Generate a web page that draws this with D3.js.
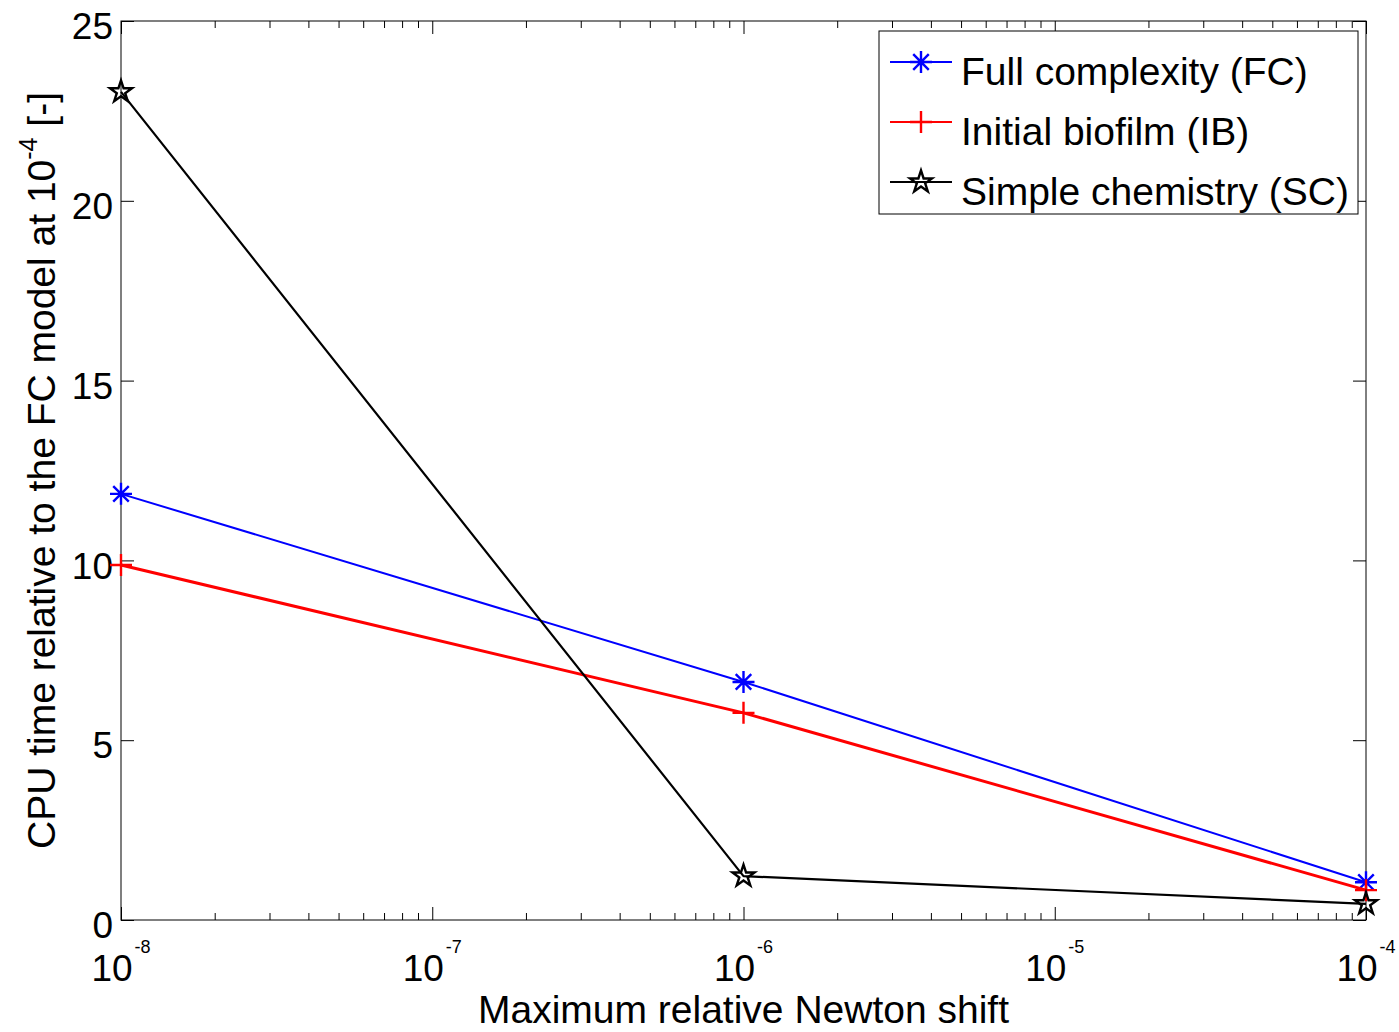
<!DOCTYPE html>
<html>
<head>
<meta charset="utf-8">
<script src="https://cdn.jsdelivr.net/npm/d3@7"></script>
<style>
  body { margin: 0; background: #fff; }
  text { font-family: "Liberation Sans", Arial, sans-serif; fill: #000; }
</style>
</head>
<body>
<svg id="chart" width="1399" height="1032"></svg>
<script>
// data
var shiftValues = [1e-8, 1e-6, 1e-4];
var fcValues = [11.85, 6.62, 1.05];
var ibValues = [9.87, 5.76, 0.83];
var scValues = [23.03, 1.22, 0.45];
var decadeExponents = [-8, -7, -6, -5, -4];
var yTickValues = [0, 5, 10, 15, 20, 25];
var seriesNames = ["Full complexity (FC)", "Initial biofilm (IB)", "Simple chemistry (SC)"];
var seriesColors = ["#0000ff", "#ff0000", "#000000"];

var margin = {left: 121, top: 21, right: 33, bottom: 112};
var width = 1399 - margin.left - margin.right;
var height = 1032 - margin.top - margin.bottom;

var svg = d3.select("#chart");
var g = svg.append("g").attr("transform", "translate(" + margin.left + "," + margin.top + ")");

var x = d3.scaleLog().domain([1e-8, 1e-4]).range([0, width]);
var y = d3.scaleLinear().domain([0, 25]).range([height, 0]);

// matlab style '*' marker: plus and cross on top of each other
var matlabStar = {
    draw: function(ctx, size){
	var r = Math.sqrt(size);
	var d = r * Math.SQRT1_2;
	ctx.moveTo(-r, 0); ctx.lineTo(r, 0);
	ctx.moveTo(0, -r); ctx.lineTo(0, r);
	ctx.moveTo(-d, -d); ctx.lineTo(d, d);
	ctx.moveTo(-d, d); ctx.lineTo(d, -d);
    }
};
var matlabPlus = {
    draw: function(ctx, size){
	var r = Math.sqrt(size);
	ctx.moveTo(-r, 0); ctx.lineTo(r, 0);
	ctx.moveTo(0, -r); ctx.lineTo(0, r);
    }
};
var markers = [
    {type: matlabStar, size: 11 * 11, width: 2.4},
    {type: matlabPlus, size: 11 * 11, width: 2.4},
    {type: d3.symbolStar, size: 150, width: 2.4}
];
var lineWidths = [2, 3, 2.2];

var minorTicks = [];
decadeExponents.slice(0, -1).forEach(function(e){
    for(var k = 2; k < 10; k++) minorTicks.push(k * Math.pow(10, e));
});
var majorTicks = decadeExponents.map(function(e){ return Math.pow(10, e); });

function styleAxis(sel){
    sel.select(".domain").remove();
    sel.selectAll("line").attr("stroke", "#000").attr("stroke-width", 1);
}

// inward ticks on all four sides
g.append("g").attr("transform", "translate(0," + height + ")")
    .call(d3.axisBottom(x).tickValues(majorTicks).tickSize(-13).tickFormat(""))
    .call(styleAxis);
g.append("g").attr("transform", "translate(0," + height + ")")
    .call(d3.axisBottom(x).tickValues(minorTicks).tickSize(-7).tickFormat(""))
    .call(styleAxis);
g.append("g")
    .call(d3.axisTop(x).tickValues(majorTicks).tickSize(-13).tickFormat(""))
    .call(styleAxis);
g.append("g")
    .call(d3.axisTop(x).tickValues(minorTicks).tickSize(-7).tickFormat(""))
    .call(styleAxis);

g.append("g")
    .call(d3.axisLeft(y).tickValues(yTickValues).tickSize(-13).tickPadding(8))
    .call(styleAxis)
    .selectAll("text")
    .attr("font-size", 37)
    .attr("font-family", "Liberation Sans, Arial, sans-serif")
    .attr("fill", "#000")
    .attr("dy", "0.48em");
g.append("g").attr("transform", "translate(" + width + ",0)")
    .call(d3.axisRight(y).tickValues(yTickValues).tickSize(-13).tickFormat(""))
    .call(styleAxis);

// x tick labels as 10^n
var xLabels = g.append("g").selectAll("text")
    .data(decadeExponents)
    .enter()
    .append("text")
    .attr("x", function(e){ return x(Math.pow(10, e)); })
    .attr("y", height + 61)
    .attr("text-anchor", "middle")
    .attr("font-size", 37);
xLabels.append("tspan").text("10");
xLabels.append("tspan").attr("dx", 2).attr("dy", -28).attr("font-size", 18).text(function(e){ return e; });

g.append("rect")
    .attr("width", width).attr("height", height)
    .attr("fill", "none").attr("stroke", "#000").attr("stroke-width", 1);

// series
var allSeries = [fcValues, ibValues, scValues];
var line = d3.line()
    .x(function(d){ return x(d.x); })
    .y(function(d){ return y(d.y); });

allSeries.forEach(function(vals, i){
    var data = _zip(shiftValues, vals);
    g.append("path")
	.datum(data)
	.attr("d", line)
	.attr("fill", "none")
	.attr("stroke", seriesColors[i])
	.attr("stroke-width", lineWidths[i])
	.attr("stroke-linejoin", "round");
    g.append("g").selectAll("path")
	.data(data)
	.enter()
	.append("path")
	.attr("transform", function(d){ return "translate(" + x(d.x) + "," + y(d.y) + ")"; })
	.attr("d", d3.symbol().type(markers[i].type).size(markers[i].size))
	.attr("fill", "none")
	.attr("stroke", seriesColors[i])
	.attr("stroke-width", markers[i].width);
});

function _zip(xs, ys){
    return xs.map(function(v, i){ return {x: v, y: ys[i]}; });
}

// axis titles
svg.append("text")
    .attr("x", margin.left + width / 2)
    .attr("y", 1023)
    .attr("text-anchor", "middle")
    .attr("font-size", 39)
    .text("Maximum relative Newton shift");

var yTitle = svg.append("text")
    .attr("transform", "translate(55," + (margin.top + height / 2) + ") rotate(-90)")
    .attr("text-anchor", "middle")
    .attr("font-size", 39);
yTitle.append("tspan").text("CPU time relative to the FC model at 10");
yTitle.append("tspan").attr("dy", -18).attr("font-size", 25).text("-4");
yTitle.append("tspan").attr("dy", 18).text(" [-]");

// legend
var legend = svg.append("g");
legend.append("rect")
    .attr("x", 879).attr("y", 31)
    .attr("width", 479).attr("height", 183)
    .attr("fill", "#fff").attr("stroke", "#000").attr("stroke-width", 1);

var rows = legend.selectAll("g.row")
    .data(seriesNames)
    .enter()
    .append("g")
    .attr("class", "row")
    .attr("transform", function(d, i){ return "translate(0," + (62 + i * 60) + ")"; });
rows.append("line")
    .attr("x1", 890).attr("x2", 952)
    .attr("stroke", function(d, i){ return seriesColors[i]; })
    .attr("stroke-width", 2);
rows.append("path")
    .attr("transform", "translate(921,0)")
    .attr("d", function(d, i){ return d3.symbol().type(markers[i].type).size(markers[i].size)(); })
    .attr("fill", "none")
    .attr("stroke", function(d, i){ return seriesColors[i]; })
    .attr("stroke-width", function(d, i){ return markers[i].width; });
rows.append("text")
    .attr("x", 961).attr("y", 23)
    .attr("font-size", 39)
    .text(function(d){ return d; });
</script>
</body>
</html>
